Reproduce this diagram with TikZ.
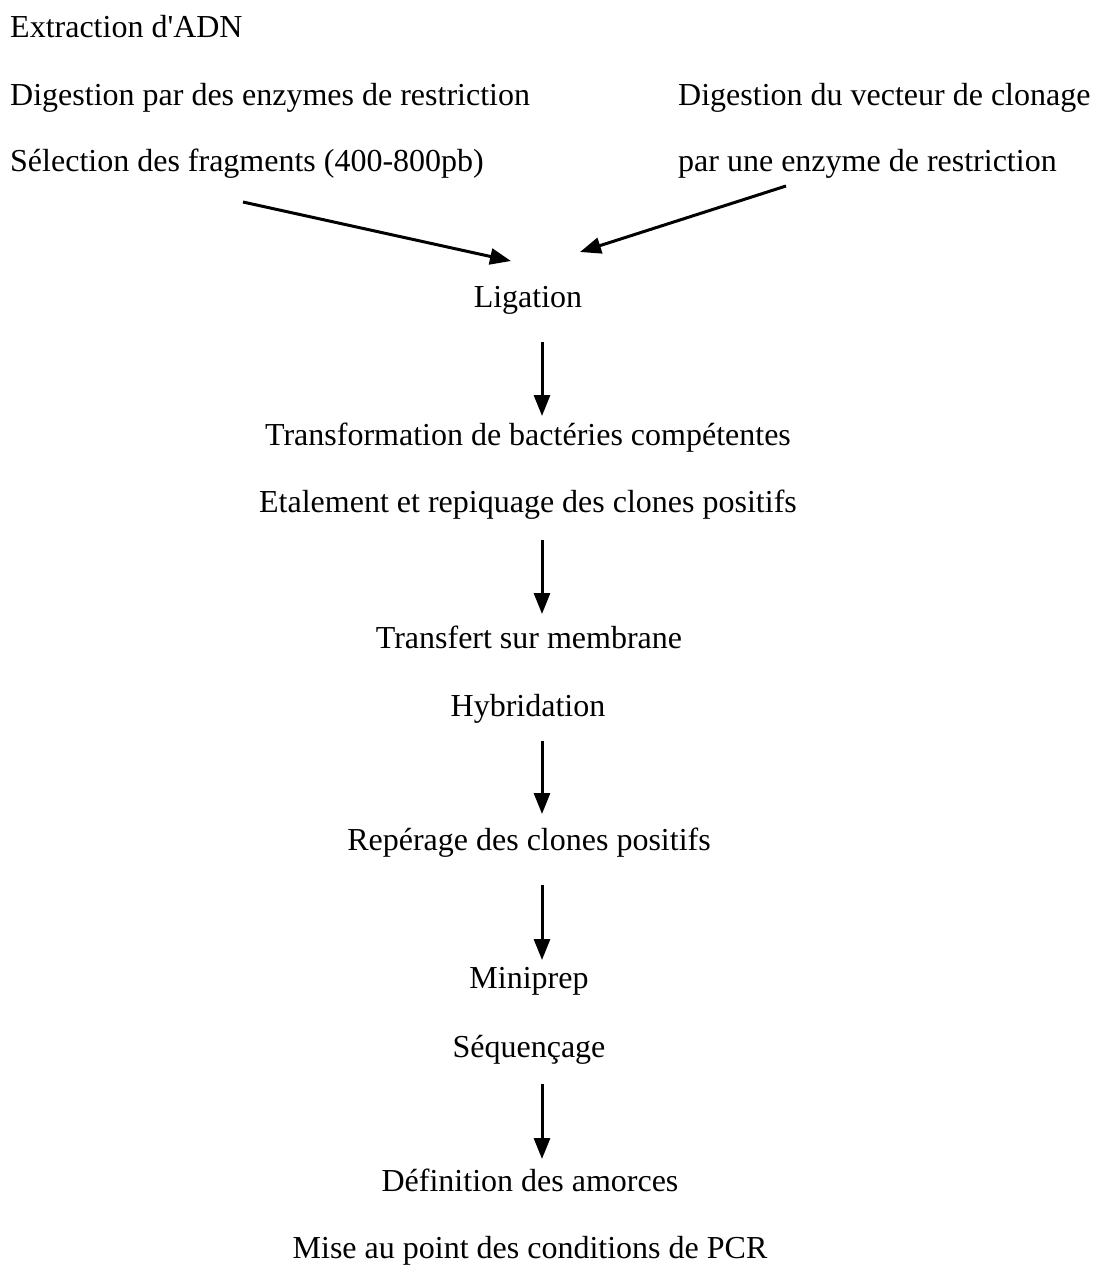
\documentclass[tikz,border=0pt]{standalone}
\usepackage{fontspec}
\setmainfont{Liberation Serif}
\usetikzlibrary{arrows.meta}
\begin{document}
\begin{tikzpicture}[x=1pt,y=-1pt,
  txt/.style={inner sep=0pt,anchor=base,font=\fontsize{32}{38}\selectfont},
  ltxt/.style={txt,anchor=base west},
  arr/.style={line width=3pt,-{Stealth[length=21pt,width=16pt,inset=0pt]}}]
\useasboundingbox (0,0) rectangle (1097,1267);
\node[ltxt] (t1) at (10,37) {Extraction d\textquotesingle ADN};
\node[ltxt] (t2) at (10,105) {Digestion par des enzymes de restriction};
\node[ltxt] (t3) at (10,171) {Sélection des fragments (400-800pb)};
\node[ltxt] (v1) at (678,105) {Digestion du vecteur de clonage};
\node[ltxt] (v2) at (678,171) {par une enzyme de restriction};
\node[txt] (lig) at (528,307) {Ligation};
\node[txt] (tr) at (528,445) {Transformation de bactéries compétentes};
\node[txt] (et) at (528,512) {Etalement et repiquage des clones positifs};
\node[txt] (tm) at (529,648) {Transfert sur membrane};
\node[txt] (hy) at (528,716) {Hybridation};
\node[txt] (rp) at (529,850) {Repérage des clones positifs};
\node[txt] (mp) at (529,988) {Miniprep};
\node[txt] (sq) at (529,1057) {Séquençage};
\node[txt] (df) at (530,1191) {Définition des amorces};
\node[txt] (mi) at (530,1258) {Mise au point des conditions de PCR};
\coordinate (a1s) at (243,202);
\coordinate (a1e) at (511,261);
\coordinate (a2s) at (786,186);
\coordinate (a2e) at (580,252);
\draw[arr] (a1s) -- (a1e);
\draw[arr] (a2s) -- (a2e);
\draw[arr] (542,342) -- (542,416);
\draw[arr] (542,540) -- (542,614);
\draw[arr] (542,741) -- (542,814);
\draw[arr] (542,885) -- (542,960);
\draw[arr] (542,1084) -- (542,1159);
\end{tikzpicture}
\end{document}
